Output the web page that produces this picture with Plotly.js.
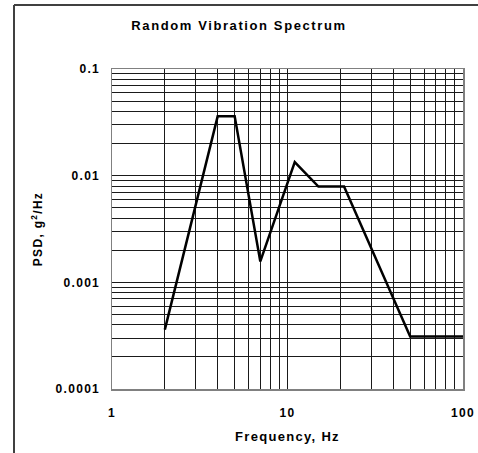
<!DOCTYPE html>
<html>
<head>
<meta charset="utf-8">
<script src="https://cdn.plot.ly/plotly-3.0.1.min.js"></script>
<style>
  html, body { margin: 0; padding: 0; background: #fff; }
  #chart { width: 478px; height: 453px; }
  .main-svg text { letter-spacing: 1.3px; }
  .main-svg text.gtitle { letter-spacing: 1.6px; }
</style>
</head>
<body>
<div id="chart"></div>
<script>
// Data
const frequencyHz = [2, 4, 5, 7, 11, 15, 21, 50, 100];
const psdValues = [0.00036, 0.036, 0.036, 0.00157, 0.0134, 0.0079, 0.0079, 0.00031, 0.00031];

const xMajorTicks = [1, 10, 100];
const xMajorLabels = ['1', '10', '100'];
const xMinorTicks = [2, 3, 4, 5, 6, 7, 8, 9, 20, 30, 40, 50, 60, 70, 80, 90];
const yMajorTicks = [0.0001, 0.001, 0.01, 0.1];
const yMajorLabels = ['0.0001', '0.001', '0.01', '0.1'];
const yMinorTicks = [
  0.0002, 0.0003, 0.0004, 0.0005, 0.0006, 0.0007, 0.0008, 0.0009,
  0.002, 0.003, 0.004, 0.005, 0.006, 0.007, 0.008, 0.009,
  0.02, 0.03, 0.04, 0.05, 0.06, 0.07, 0.08, 0.09
];

const FONT = 'Liberation Sans, Arial, sans-serif';
const gridCol = '#1a1a1a';

const trace = {
  x: frequencyHz,
  y: psdValues,
  type: 'scatter',
  mode: 'lines',
  line: { color: '#000000', width: 2.5 },
  hoverinfo: 'x+y'
};

const layout = {
  width: 478,
  height: 453,
  margin: { l: 112, r: 15, t: 69, b: 64 },
  paper_bgcolor: '#ffffff',
  plot_bgcolor: '#ffffff',
  showlegend: false,
  title: {
    text: '<b>Random Vibration Spectrum</b>',
    font: { family: FONT, size: 13, color: '#000' },
    x: 0.5, xref: 'container', xanchor: 'center',
    y: 1 - 25 / 453, yref: 'container', yanchor: 'middle'
  },
  xaxis: {
    type: 'log',
    range: [0, 2],
    tickvals: xMajorTicks,
    ticktext: xMajorLabels.map(s => '<b>' + s + '</b>'),
    ticks: '',
    tickfont: { family: FONT, size: 12, color: '#000' },
    ticklabelstandoff: 12,
    showgrid: true,
    gridcolor: gridCol,
    gridwidth: 1,
    minor: { tickvals: xMinorTicks, showgrid: true, gridcolor: gridCol, gridwidth: 1, ticks: '' },
    showline: true,
    linecolor: '#808080',
    linewidth: 1.5,
    mirror: true,
    zeroline: false,
    title: {
      text: '<b>Frequency, Hz</b>',
      font: { family: FONT, size: 13, color: '#000' },
      standoff: 13
    }
  },
  yaxis: {
    type: 'log',
    range: [-4, -1],
    tickvals: yMajorTicks,
    ticktext: yMajorLabels.map(s => '<b>' + s + '</b>'),
    ticks: '',
    tickfont: { family: FONT, size: 12, color: '#000' },
    ticklabelstandoff: 8,
    showgrid: true,
    gridcolor: gridCol,
    gridwidth: 1,
    minor: { tickvals: yMinorTicks, showgrid: true, gridcolor: gridCol, gridwidth: 1, ticks: '' },
    showline: true,
    linecolor: '#808080',
    linewidth: 1.5,
    mirror: true,
    zeroline: false,
    title: {
      text: '<b>PSD, g<sup>2</sup>/Hz</b>',
      font: { family: FONT, size: 12, color: '#000' },
      standoff: 18
    }
  },
  shapes: [
    { type: 'line', xref: 'paper', yref: 'paper', x0: (14 - 112) / 351, x1: (14 - 112) / 351, y0: -0.25, y1: (389 - 5) / 320, line: { color: '#404040', width: 2 } },
    { type: 'line', xref: 'paper', yref: 'paper', x0: (14 - 112) / 351, x1: 1.1, y0: (389 - 5) / 320, y1: (389 - 5) / 320, line: { color: '#404040', width: 2 } }
  ]
};

Plotly.newPlot('chart', [trace], layout, { staticPlot: true, displayModeBar: false });
</script>
</body>
</html>
